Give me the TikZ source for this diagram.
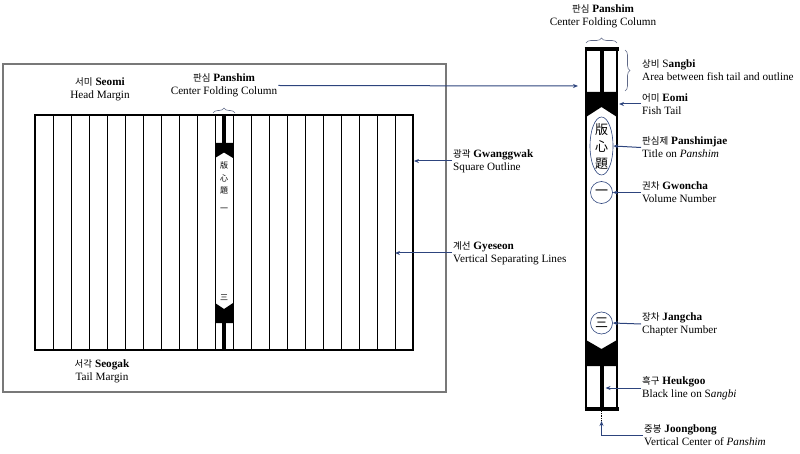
\documentclass[tikz,border=0pt]{standalone}
\usepackage{fontspec}
\setmainfont{Liberation Serif}
\newfontfamily\kr{Noto Sans CJK KR}
\usetikzlibrary{arrows.meta, shapes.geometric, decorations.pathreplacing}
\definecolor{pointer}{RGB}{45,68,125}
\definecolor{bracegray}{RGB}{95,105,135}
\definecolor{framegray}{RGB}{120,120,120}
\newcommand{\ko}[1]{{\kr\fontsize{9.5}{10}\selectfont #1}}
\tikzset{
    note/.style = {anchor=west, align=left, inner sep=1pt, font=\fontsize{11.2}{13}\selectfont},
    cnote/.style = {align=center, inner sep=1pt, font=\fontsize{11.2}{13}\selectfont},
    arrow/.style = {pointer, line width=1pt, -{Stealth[length=5pt, width=4pt]}},
    sepline/.style = {line width=0.9pt},
    curly/.style = {bracegray, line width=0.6pt, decorate, decoration={brace, amplitude=5pt}},
    ring/.style = {circle, draw=pointer, line width=0.6pt, minimum size=22pt, inner sep=0pt, font=\kr\fontsize{13}{13}\selectfont},
    smallhanja/.style = {inner sep=0pt, font=\kr\fontsize{8}{8}\selectfont},
    bighanja/.style = {inner sep=0pt, font=\kr\fontsize{13}{13}\selectfont}
}

\begin{document}
\begin{tikzpicture}[x=1pt, y=-1pt]
    \useasboundingbox (0,0) rectangle (800,454);

    % left page
    \draw [framegray, line width=1.3pt] (3,64) rectangle (446,392);
    \foreach \x in {53,71,...,215} \draw [sepline] (\x,115) -- (\x,350);
    \foreach \x in {233,251,...,395} \draw [sepline] (\x,115) -- (\x,350);
    \node (outline) [draw, line width=1.8pt, minimum width=378pt, minimum height=235pt, inner sep=0pt] at (224,232.5) {};

    \draw [line width=3.4pt] (224,115) -- (224,143);
    \draw [line width=3.4pt] (224,323) -- (224,350);
    \fill (215,143) -- (233,143) -- (233,158) -- (224,152.5) -- (215,158) -- cycle;
    \fill (215,303) -- (224,309) -- (233,303) -- (233,323) -- (215,323) -- cycle;
    \foreach \c/\y [count=\i] in {版/165, 心/178, 題/191, 一/210, 三/298}
        \node (lc\i) [smallhanja] at (224,\y) {\c};

    \node (seomi) [cnote] at (100,89) {\ko{서미} \textbf{Seomi}\\Head Margin};
    \node (seogak) [cnote] at (102,371) {\ko{서각} \textbf{Seogak}\\Tail Margin};
    \node (panshimL) [cnote] at (224,85.5) {\ko{판심} \textbf{Panshim}\\Center Folding Column};
    \draw [curly] (213,113) -- (235,113);

    \node (gwanggwakLbl) [note] at (452,161) {\ko{광곽} \textbf{Gwanggwak}\\Square Outline};
    \node (gyeseonLbl) [note] at (452,253) {\ko{계선} \textbf{Gyeseon}\\Vertical Separating Lines};
    \coordinate (gyeseon) at (395,253);

    \draw [arrow] (gwanggwakLbl.west) -- (gwanggwakLbl.west -| outline.east);
    \draw [arrow] (gyeseonLbl.west) -- (gyeseon);

    % panshim in detail
    \draw [line width=1.8pt] (586,49) -- (586,409);
    \draw [line width=1.8pt] (617,49) -- (617,409);
    \draw [line width=3.2pt] (584.5,49) -- (618.5,49);
    \draw [line width=3.2pt] (584.5,409) -- (618.5,409);
    \draw [line width=4pt] (601.5,49) -- (601.5,93);
    \draw [line width=4pt] (601.5,365) -- (601.5,409);
    \fill (586,92) -- (617,92) -- (617,117) -- (601.5,107) -- (586,117) -- cycle;
    \fill (586,340) -- (601.5,349) -- (617,340) -- (617,366) -- (586,366) -- cycle;

    \node (title) [ellipse, draw=pointer, line width=0.6pt, minimum width=23pt, minimum height=58pt, inner sep=0pt] at (601.5,146) {};
    \node (t1) [bighanja] at (601.5,130) {版};
    \node (t2) [bighanja] at (601.5,147) {心};
    \node (t3) [bighanja] at (601.5,164) {題};
    \node (gwoncha) [ring] at (601.5,192.5) {一};
    \node (jangcha) [ring] at (601.5,323) {三};

    \coordinate (eomi) at (619,104);
    \coordinate (heukgoo) at (605.5,388);
    \coordinate (joong) at (601.5,421);
    \coordinate (panshimTip) at (578,86);
    \draw [line width=0.8pt, densely dotted] (601.5,411) -- (joong);

    \node (panshimR) [cnote] at (603,16) {\ko{판심} \textbf{Panshim}\\Center Folding Column};
    \draw [curly] (586,43) -- (617,43);
    \draw [curly] (625,50) -- (625,91);

    \node (sangbiLbl) [note] at (641,70.5) {\ko{상비} S\textbf{angbi}\\Area between fish tail and outline};
    \node (eomiLbl) [note] at (641,104) {\ko{어미} \textbf{Eomi}\\Fish Tail};
    \node (titleLbl) [note] at (641,147.5) {\ko{판심제} \textbf{Panshimjae}\\Title on \textit{Panshim}};
    \node (gwonchaLbl) [note] at (641,192.5) {\ko{권차} \textbf{Gwoncha}\\Volume Number};
    \node (jangchaLbl) [note] at (641,324) {\ko{장차} \textbf{Jangcha}\\Chapter Number};
    \node (heukgooLbl) [note] at (641,388) {\ko{흑구} \textbf{Heukgoo}\\Black line on S\textit{angbi}};
    \node (joongbongLbl) [note] at (643,435) {\ko{중봉} \textbf{Joongbong}\\Vertical Center of \textit{Panshim}};

    \draw [arrow] (panshimL.east) -- (panshimTip);
    \draw [arrow] (eomiLbl.west) -- (eomi);
    \draw [arrow] (titleLbl.west) -- (title.east);
    \draw [arrow] (gwonchaLbl.west) -- (gwoncha.east);
    \draw [arrow] (jangchaLbl.west) -- (jangcha.east);
    \draw [arrow] (heukgooLbl.west) -- (heukgoo);
    \draw [arrow] (joongbongLbl.west) -| (joong);
\end{tikzpicture}
\end{document}
